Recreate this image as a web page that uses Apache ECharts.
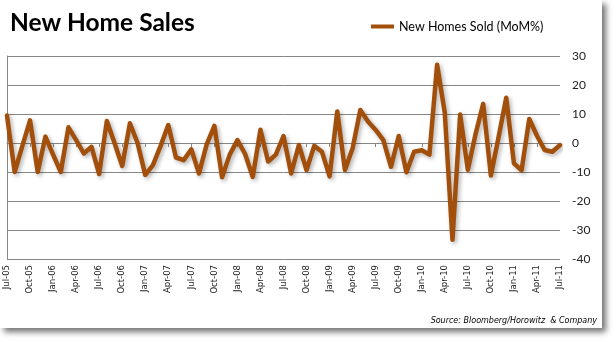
<!DOCTYPE html>
<html><head><meta charset="utf-8">
<script src="https://cdn.jsdelivr.net/npm/echarts@6/dist/echarts.min.js"></script>
<style>
html,body{margin:0;padding:0;background:#fff}
#frame{position:absolute;left:0;top:0;width:602px;height:328px;background:#fff;box-shadow:4px 4px 6px rgba(0,0,0,0.55)}
#c{position:absolute;left:0;top:0;width:616px;height:342px}
</style>
</head><body><div id="frame"></div><div id="c"></div>
<script>
const chartTitle = 'New Home Sales';
const seriesName = 'New Homes Sold (MoM%)';
const sourceText = 'Source: Bloomberg/Horowitz  & Company';
const months = [
 'Jul-05','Aug-05','Sep-05','Oct-05','Nov-05','Dec-05',
 'Jan-06','Feb-06','Mar-06','Apr-06','May-06','Jun-06','Jul-06','Aug-06','Sep-06','Oct-06','Nov-06','Dec-06',
 'Jan-07','Feb-07','Mar-07','Apr-07','May-07','Jun-07','Jul-07','Aug-07','Sep-07','Oct-07','Nov-07','Dec-07',
 'Jan-08','Feb-08','Mar-08','Apr-08','May-08','Jun-08','Jul-08','Aug-08','Sep-08','Oct-08','Nov-08','Dec-08',
 'Jan-09','Feb-09','Mar-09','Apr-09','May-09','Jun-09','Jul-09','Aug-09','Sep-09','Oct-09','Nov-09','Dec-09',
 'Jan-10','Feb-10','Mar-10','Apr-10','May-10','Jun-10','Jul-10','Aug-10','Sep-10','Oct-10','Nov-10','Dec-10',
 'Jan-11','Feb-11','Mar-11','Apr-11','May-11','Jun-11','Jul-11'
];
const momPct = [
 9.5, -10, -1, 7.8, -10, 2.2,
 -4, -10, 5.4, 1, -3.6, -1.3, -10.7, 7.6, 0, -7.9, 6.8, 0,
 -11, -7.6, -1, 6.2, -5, -5.9, -2.2, -10.5, -0.5, 5.9, -11.8, -4,
 1, -3.8, -11.7, 4.6, -6.4, -4, 2.4, -10.5, -0.7, -9.3, -1, -3,
 -11.5, 10.9, -9.3, -1.8, 11.4, 7.4, 4.5, 1, -8.2, 2.4, -10.1, -3,
 -2.5, -4, 27, 10.4, -33.4, 9.8, -9.2, 3, 13.5, -11.2, 2, 15.6,
 -7, -9.4, 8.3, 2.5, -2.4, -3, -0.7
];
const yMin = -40, yMax = 30, yStep = 10;

const gridColor = '#868686';
const chart = echarts.init(document.getElementById('c'), null, {renderer: 'canvas'});
chart.setOption({
  animation: false,
  backgroundColor: 'transparent',
  title: {
    text: chartTitle, left: 5, top: 6,
    textStyle: {fontFamily: 'Lato', fontWeight: 'bold', fontSize: 24.5, color: '#000'}
  },
  legend: {
    data: [seriesName], left: 366, top: 15,
    icon: 'rect', itemWidth: 23, itemHeight: 4,
    textStyle: {fontFamily: 'Lato', fontSize: 12.5, color: '#000'}
  },
  grid: {left: 7, right: 56, top: 56, bottom: 83, containLabel: false},
  xAxis: [
    {
      type: 'category', data: months, boundaryGap: false, position: 'bottom',
      axisLine: {show: false, onZero: false}, axisTick: {show: false},
      axisLabel: {interval: 2, rotate: 90, margin: 6, fontFamily: 'DejaVu Sans', fontSize: 8.5, color: '#222'},
      splitLine: {show: false}
    },
    {
      type: 'category', data: months, boundaryGap: false, position: 'bottom',
      axisLine: {show: true, onZero: true, lineStyle: {color: gridColor, width: 1}},
      axisTick: {show: true, interval: 2, length: 4, lineStyle: {color: gridColor}},
      axisLabel: {show: false}, splitLine: {show: false}
    }
  ],
  yAxis: [
    {
      type: 'value', position: 'right', min: yMin, max: yMax, interval: yStep,
      axisLine: {show: false}, axisTick: {show: false},
      axisLabel: {margin: 12, fontFamily: 'Lato', fontSize: 12, color: '#222'},
      splitLine: {show: true, lineStyle: {color: gridColor, width: 1}}
    },
    {
      type: 'value', position: 'left', min: yMin, max: yMax, interval: yStep,
      axisLine: {show: true, onZero: false, lineStyle: {color: gridColor, width: 1}},
      axisTick: {show: false}, axisLabel: {show: false}, splitLine: {show: false}
    }
  ],
  series: [{
    name: seriesName, type: 'line', data: momPct, xAxisIndex: 0, yAxisIndex: 0,
    symbol: 'none', color: '#A24F0C',
    lineStyle: {width: 4.5, color: '#A24F0C', join: 'round', cap: 'round',
      shadowBlur: 4, shadowColor: 'rgba(0,0,0,0.3)', shadowOffsetX: 2, shadowOffsetY: 2}
  }],
  graphic: [{
    type: 'text', right: 19, top: 317,
    style: {text: sourceText, fill: '#000', font: 'italic 8px "DejaVu Sans"'}
  }]
});
</script>
</body></html>
